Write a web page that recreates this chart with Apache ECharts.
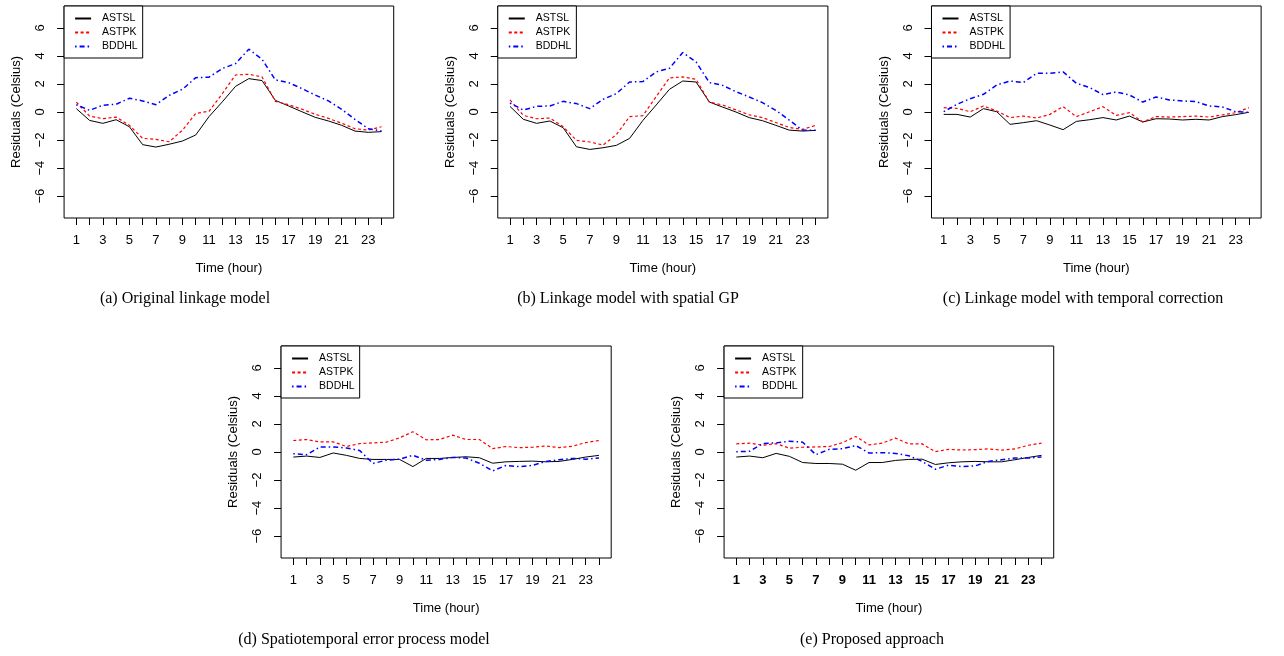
<!DOCTYPE html>
<html>
<head>
<meta charset="utf-8">
<script src="https://cdn.jsdelivr.net/npm/echarts@6/dist/echarts.min.js"></script>
<style>
html,body{margin:0;padding:0;background:#fff;}
#chart{width:1284px;height:656px;}
</style>
</head>
<body>
<div id="chart"></div>
<script>
// ---- data ----
const hours = [1,2,3,4,5,6,7,8,9,10,11,12,13,14,15,16,17,18,19,20,21,22,23,24];
const xTickLabels = [1,3,5,7,9,11,13,15,17,19,21,23];
const yTicks = [-6,-4,-2,0,2,4,6];
const seriesNames = ['ASTSL','ASTPK','BDDHL'];
const captions = ['(a) Original linkage model','(b) Linkage model with spatial GP','(c) Linkage model with temporal correction','(d) Spatiotemporal error process model','(e) Proposed approach'];

const ASTSL_a = [0.24,-0.6,-0.81,-0.55,-1.05,-2.33,-2.5,-2.3,-2.07,-1.64,-0.33,0.72,1.83,2.38,2.24,0.83,0.43,0.02,-0.38,-0.64,-0.95,-1.36,-1.45,-1.4];
const ASTPK_a = [0.71,-0.29,-0.48,-0.36,-0.95,-1.88,-1.95,-2.12,-1.3,-0.1,0.05,1.3,2.64,2.69,2.5,0.76,0.52,0.2,-0.16,-0.45,-0.8,-1.19,-1.29,-1.05];
const BDDHL_a = [0.52,0.12,0.48,0.55,0.98,0.79,0.52,1.19,1.62,2.45,2.48,3.1,3.45,4.48,3.76,2.29,2.1,1.67,1.21,0.79,0.19,-0.52,-1.19,-1.36];

const ASTSL_b = [0.4,-0.52,-0.81,-0.64,-1.12,-2.48,-2.67,-2.55,-2.38,-1.88,-0.6,0.5,1.62,2.21,2.14,0.71,0.35,0.0,-0.4,-0.62,-0.95,-1.29,-1.36,-1.31];
const ASTPK_b = [0.86,-0.24,-0.48,-0.43,-1.05,-2.02,-2.14,-2.36,-1.62,-0.33,-0.26,1.1,2.43,2.5,2.33,0.71,0.5,0.15,-0.2,-0.4,-0.75,-1.1,-1.24,-0.95];
const BDDHL_b = [0.64,0.14,0.4,0.43,0.76,0.6,0.24,0.9,1.31,2.14,2.17,2.86,3.12,4.24,3.57,2.1,1.9,1.45,1.07,0.67,0.12,-0.57,-1.29,-1.31];

const ASTSL_c = [-0.17,-0.17,-0.36,0.24,0.02,-0.88,-0.76,-0.62,-0.93,-1.26,-0.67,-0.55,-0.4,-0.57,-0.29,-0.71,-0.48,-0.5,-0.57,-0.52,-0.57,-0.33,-0.19,-0.02];
const ASTPK_c = [0.31,0.26,0.02,0.43,0.07,-0.4,-0.29,-0.43,-0.17,0.38,-0.33,0.02,0.38,-0.24,-0.05,-0.71,-0.33,-0.36,-0.33,-0.29,-0.36,-0.21,-0.05,0.31];
const BDDHL_c = [0.02,0.55,0.95,1.26,1.93,2.21,2.1,2.76,2.76,2.86,2.05,1.74,1.24,1.43,1.21,0.71,1.07,0.86,0.79,0.74,0.43,0.36,0.02,-0.02];

const ASTSL_d = [-0.36,-0.29,-0.39,-0.07,-0.24,-0.46,-0.53,-0.53,-0.53,-1.04,-0.46,-0.46,-0.39,-0.34,-0.41,-0.8,-0.7,-0.67,-0.65,-0.7,-0.67,-0.53,-0.36,-0.24];
const ASTPK_d = [0.82,0.89,0.72,0.72,0.39,0.6,0.65,0.7,1.01,1.45,0.87,0.89,1.2,0.89,0.89,0.24,0.39,0.31,0.34,0.43,0.31,0.41,0.67,0.82];
const BDDHL_d = [-0.12,-0.19,0.36,0.36,0.29,0.1,-0.82,-0.58,-0.51,-0.24,-0.58,-0.53,-0.39,-0.43,-0.8,-1.35,-0.96,-1.04,-0.96,-0.67,-0.55,-0.46,-0.51,-0.43];

const ASTSL_e = [-0.36,-0.29,-0.41,-0.1,-0.31,-0.75,-0.82,-0.82,-0.87,-1.3,-0.75,-0.75,-0.6,-0.53,-0.51,-0.89,-0.77,-0.7,-0.67,-0.7,-0.7,-0.55,-0.39,-0.24];
const ASTPK_e = [0.58,0.63,0.48,0.6,0.27,0.34,0.36,0.39,0.67,1.11,0.51,0.63,0.99,0.58,0.58,0.02,0.19,0.14,0.17,0.22,0.14,0.22,0.48,0.63];
const BDDHL_e = [0.02,0.05,0.6,0.65,0.77,0.7,-0.19,0.19,0.24,0.46,-0.07,-0.05,-0.1,-0.27,-0.67,-1.23,-0.94,-1.04,-0.99,-0.67,-0.55,-0.43,-0.43,-0.36];

const panelData = [
  [ASTSL_a, ASTPK_a, BDDHL_a],
  [ASTSL_b, ASTPK_b, BDDHL_b],
  [ASTSL_c, ASTPK_c, BDDHL_c],
  [ASTSL_d, ASTPK_d, BDDHL_d],
  [ASTSL_e, ASTPK_e, BDDHL_e]
];

// ---- layout / style ----
const panels = [
  {x1: 76.3, ppu: 13.27, top: 6,   cx: 185,  cy: 299},
  {x1: 510,  ppu: 13.29, top: 6,   cx: 628,  cy: 299},
  {x1: 943.7,ppu: 13.27, top: 6,   cx: 1083, cy: 299},
  {x1: 293.3,ppu: 13.29, top: 346, cx: 364,  cy: 640},
  {x1: 736.3,ppu: 13.27, top: 346, cx: 872,  cy: 640, boldX: true}
];
const XMIN = 0.08, XMAX = 24.92, YMIN = -7.56, YMAX = 7.56;
const lineStyles = [
  {color: '#000000', width: 1, type: 'solid'},
  {color: '#ff0000', width: 1.2, type: [3, 2.5]},
  {color: '#0000ff', width: 1.5, type: [1.5, 3, 5, 3]}
];
const sans = 'Liberation Sans, Arial, Helvetica, sans-serif';

const grids = [], xAxes = [], yAxes = [], series = [], legends = [], graphics = [];
panels.forEach((p, i) => {
  const left = p.x1 - (1 - XMIN) * p.ppu;
  const width = (XMAX - XMIN) * p.ppu;
  grids.push({left: left, top: p.top, width: width, height: 212,
    show: true, borderColor: '#000', borderWidth: 1, backgroundColor: 'transparent', containLabel: false});
  xAxes.push({type: 'value', gridIndex: i, min: XMIN, max: XMAX, position: 'bottom',
    name: 'Time (hour)', nameLocation: 'middle', nameGap: 44,
    nameTextStyle: {fontFamily: sans, fontSize: 13, color: '#000'},
    axisLine: {show: false, onZero: false},
    splitLine: {show: false},
    axisTick: {show: true, length: 7, customValues: hours, lineStyle: {color: '#000', width: 1}},
    axisLabel: {customValues: xTickLabels, margin: 16, fontFamily: sans, fontSize: 13, color: '#000',
      fontWeight: p.boldX ? 'bold' : 'normal'}
  });
  yAxes.push({type: 'value', gridIndex: i, min: YMIN, max: YMAX, position: 'left',
    name: 'Residuals (Celsius)', nameLocation: 'middle', nameGap: 41,
    nameTextStyle: {fontFamily: sans, fontSize: 13, color: '#000'},
    axisLine: {show: false, onZero: false},
    splitLine: {show: false},
    axisTick: {show: true, length: 7, customValues: yTicks, lineStyle: {color: '#000', width: 1}},
    axisLabel: {customValues: yTicks, rotate: 90, margin: 17, fontFamily: sans, fontSize: 13, color: '#000',
      formatter: v => String(v).replace('-', '\u2212')}
  });
  seriesNames.forEach((name, k) => {
    series.push({type: 'line', name: name, xAxisIndex: i, yAxisIndex: i,
      data: hours.map((h, j) => [h, panelData[i][k][j]]),
      symbol: 'none', showSymbol: false, animation: false, silent: true,
      lineStyle: lineStyles[k], itemStyle: {color: lineStyles[k].color}
    });
  });
  legends.push({data: seriesNames, orient: 'vertical', left: left, top: p.top,
    backgroundColor: '#fff', borderColor: '#000', borderWidth: 1, borderRadius: 0,
    padding: [7, 5, 6, 10], itemWidth: 16, itemHeight: 10, itemGap: 3,
    selectedMode: false,
    itemStyle: {color: 'rgba(0,0,0,0)', borderColor: 'rgba(0,0,0,0)', borderWidth: 0, opacity: 0},
    textStyle: {fontFamily: sans, fontSize: 10.5, color: '#000', lineHeight: 10, padding: [0, 0, 0, 6]}
  });
  graphics.push({type: 'text', x: p.cx, y: p.cy,
    style: {text: captions[i], fontFamily: 'Liberation Serif, Times New Roman, serif', fontSize: 16,
      fill: '#000', textAlign: 'center', textVerticalAlign: 'middle'}});
});

const chart = echarts.init(document.getElementById('chart'), null, {renderer: 'canvas'});
chart.setOption({
  backgroundColor: '#fff',
  animation: false,
  grid: grids, xAxis: xAxes, yAxis: yAxes,
  legend: legends, series: series, graphic: graphics
});
</script>
</body>
</html>
